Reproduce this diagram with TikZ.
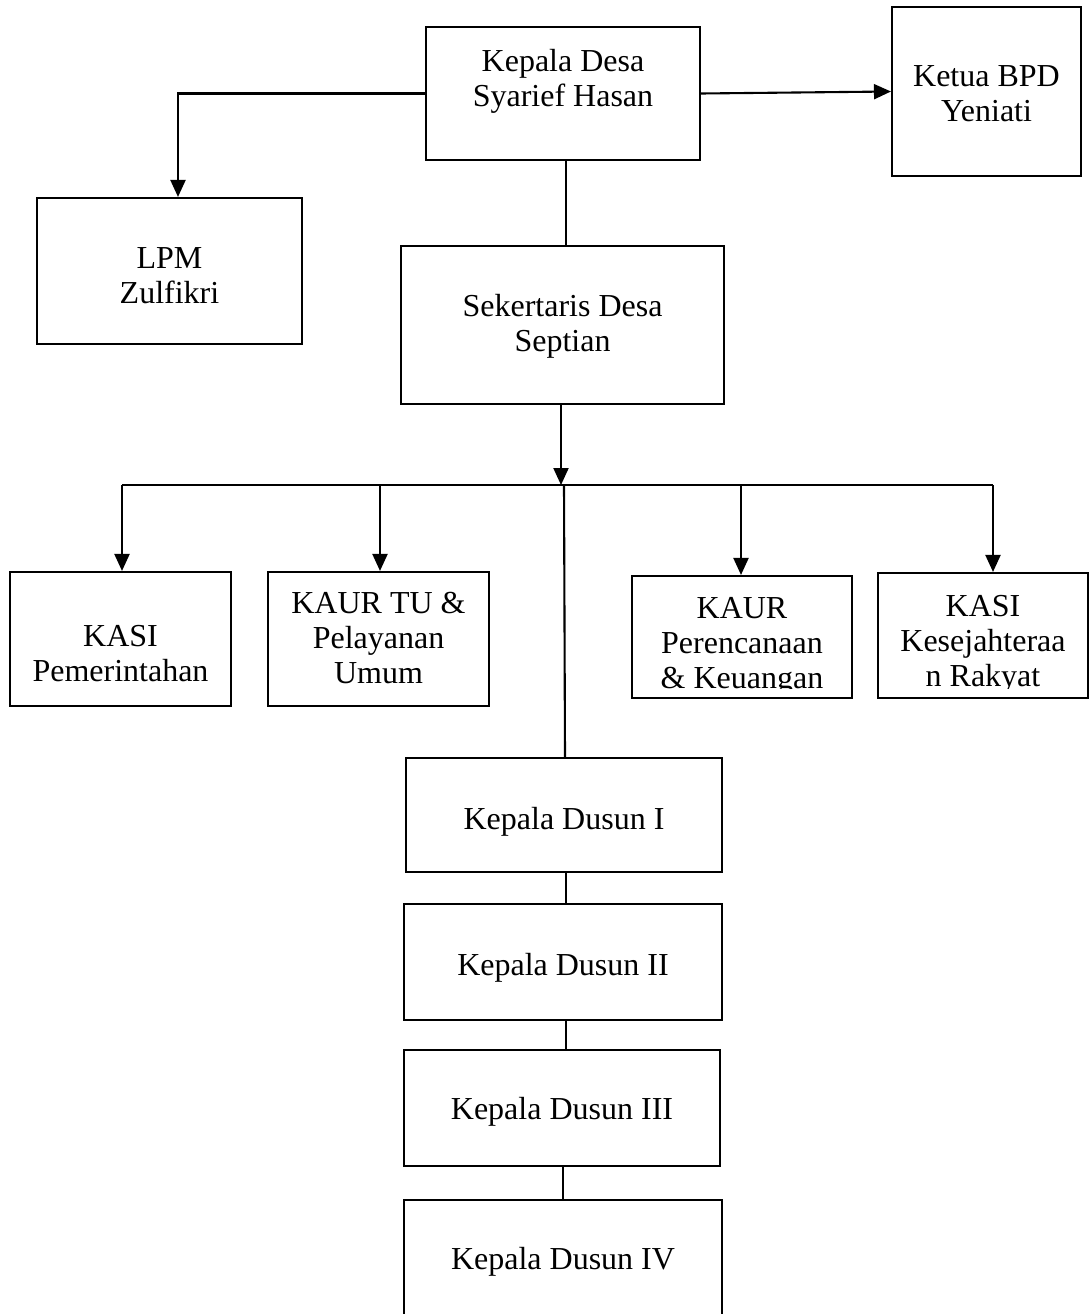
\documentclass[tikz,border=0pt]{standalone}
\usepackage{fontspec}
\setmainfont{Liberation Serif}
\usetikzlibrary{arrows.meta,calc}
\begin{document}
\begin{tikzpicture}[x=1pt,y=-1pt,
  box/.style={draw, line width=2.1pt, inner sep=0pt, rectangle},
  txt/.style={align=center, inner sep=0pt, font=\fontsize{32}{35}\selectfont},
  ln/.style={line width=2.1pt},
  arr/.style={line width=2.1pt, -{Triangle[length=17pt,width=15pt]}}]
\useasboundingbox[fill=white] (0,0) rectangle (1091,1314);
% boxes
\node[box, minimum width=274pt, minimum height=133pt] (kd) at (563,93.5) {};
\node[box, minimum width=189pt, minimum height=169pt] (bpd) at (986.5,91.5) {};
\node[box, minimum width=265pt, minimum height=146pt] (lpm) at (169.5,271) {};
\node[box, minimum width=323pt, minimum height=158pt] (sek) at (562.5,325) {};
\node[box, minimum width=221pt, minimum height=134pt] (kp) at (120.5,639) {};
\node[box, minimum width=221pt, minimum height=134pt] (kt) at (378.5,639) {};
\node[box, minimum width=220pt, minimum height=122pt] (kpk) at (742,637) {};
\node[box, minimum width=210pt, minimum height=125pt] (kks) at (983,635.5) {};
\node[box, minimum width=316pt, minimum height=114pt] (d1) at (564,815) {};
\node[box, minimum width=318pt, minimum height=116pt] (d2) at (563,962) {};
\node[box, minimum width=316pt, minimum height=116pt] (d3) at (562,1108) {};
\node[box, minimum width=318pt, minimum height=140pt] (d4) at (563,1270) {};
% texts
\node[txt] (tkd) at (563,81) {Kepala Desa\\Syarief Hasan};
\node[txt] (tbpd) at (986.5,93.5) {Ketua BPD\\Yeniati};
\node[txt] (tlpm) at (169.5,276) {LPM\\Zulfikri};
\node[txt] (tsek) at (562.5,326) {Sekertaris Desa\\Septian};
\node[txt] (tkp) at (120.5,654) {KASI\\Pemerintahan};
\node[txt] (tkt) at (378.5,638.5) {KAUR TU \&\\Pelayanan\\Umum};
\begin{scope}
\clip (632,576) rectangle (852,688);
\node[txt] (tkpk) at (742,646) {KAUR\\Perencanaan\\\& Keuangan};
\end{scope}
\begin{scope}
\clip (878,573) rectangle (1088,688);
\node[txt] (tkks) at (983,644) {KASI\\Kesejahteraa\\n Rakyat};
\end{scope}
\node[txt] (td1) at (564,822) {Kepala Dusun I};
\node[txt] (td2) at (563,968) {Kepala Dusun II};
\node[txt] (td3) at (562,1112) {Kepala Dusun III};
\node[txt] (td4) at (563,1262) {Kepala Dusun IV};
% connectors
\draw[arr] (kd.east) -- (bpd.west);
\draw[arr] (kd.west) -| ([xshift=8.5pt]lpm.north);
\draw[ln] ([xshift=3pt]kd.south) -- ([xshift=3pt]kd.south |- sek.north);
\coordinate (bus) at (561,485);
\coordinate (b1) at (122,485);
\coordinate (b2) at (380,485);
\coordinate (b3) at (741,485);
\coordinate (b4) at (993,485);
\draw[arr] (sek.south -| bus) -- (bus);
\draw[ln] (b1) -- (b4);
\draw[arr] (b1) -- (b1 |- kp.north);
\draw[arr] (b2) -- (b2 |- kt.north);
\draw[arr] (b3) -- (b3 |- kpk.north);
\draw[arr] (b4) -- (b4 |- kks.north);
\draw[ln] ([xshift=3pt]bus) -- ([xshift=1pt]d1.north);
\draw[ln] ([xshift=2pt]d1.south) -- ([xshift=2pt]d1.south |- d2.north);
\draw[ln] ([xshift=3pt]d2.south) -- ([xshift=3pt]d2.south |- d3.north);
\draw[ln] ([xshift=1pt]d3.south) -- ([xshift=1pt]d3.south |- d4.north);
\end{tikzpicture}
\end{document}
